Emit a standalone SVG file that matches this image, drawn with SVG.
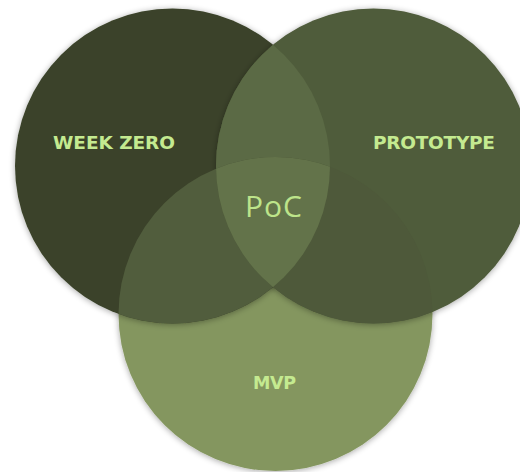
<svg xmlns="http://www.w3.org/2000/svg" width="520" height="472" viewBox="0 0 520 472">
  <style>
    .lbl { font-family: "DejaVu Sans", "Liberation Sans", sans-serif; font-weight: 700; fill: #c4ea90; text-anchor: middle; }
    .poc { font-family: "Open Sans", "Liberation Sans", sans-serif; font-weight: 400; fill: #bde48a; text-anchor: middle; }
  </style>
  <defs>
    <filter id="sh" x="-10%" y="-10%" width="120%" height="120%">
      <feGaussianBlur in="SourceAlpha" stdDeviation="3"/>
      <feOffset dx="0" dy="1" result="b"/>
      <feComponentTransfer><feFuncA type="linear" slope="0.35"/></feComponentTransfer>
      <feMerge><feMergeNode/><feMergeNode in="SourceGraphic"/></feMerge>
    </filter>
    <clipPath id="cL"><circle cx="172.5" cy="166" r="157.5"/></clipPath>
    <clipPath id="cR"><circle cx="373.5" cy="166" r="157.5"/></clipPath>
  </defs>
  <rect width="520" height="472" fill="#ffffff"/>
  <g id="mvp" filter="url(#sh)">
    <circle cx="275.5" cy="314" r="157" fill="#84965f"/>
  </g>
  <g id="week-zero" filter="url(#sh)">
    <circle cx="172.5" cy="166" r="157.5" fill="#3a4229"/>
  </g>
  <g id="prototype" filter="url(#sh)">
    <circle cx="373.5" cy="166" r="157.5" fill="#4f5b3b"/>
  </g>
  <g id="overlaps">
    <g clip-path="url(#cL)">
      <circle cx="373.5" cy="166" r="157.5" fill="#5b6a45"/>
      <circle cx="275.5" cy="314" r="157" fill="#515d3d"/>
    </g>
    <g clip-path="url(#cR)">
      <circle cx="275.5" cy="314" r="157" fill="#4e593a"/>
    </g>
    <g clip-path="url(#cL)">
      <g clip-path="url(#cR)">
        <circle cx="275.5" cy="314" r="157" fill="#63734a"/>
      </g>
    </g>
  </g>
  <g id="labels">
    <text class="lbl" x="114" y="149" font-size="18.5" textLength="122" lengthAdjust="spacing">WEEK ZERO</text>
    <text class="lbl" x="434" y="149" font-size="18.5" textLength="122" lengthAdjust="spacing">PROTOTYPE</text>
    <text class="lbl" x="274.5" y="389" font-size="17.5" textLength="43" lengthAdjust="spacing">MVP</text>
    <text class="poc" x="273.5" y="217" font-size="30" textLength="57" lengthAdjust="spacing">PoC</text>
  </g>
</svg>
